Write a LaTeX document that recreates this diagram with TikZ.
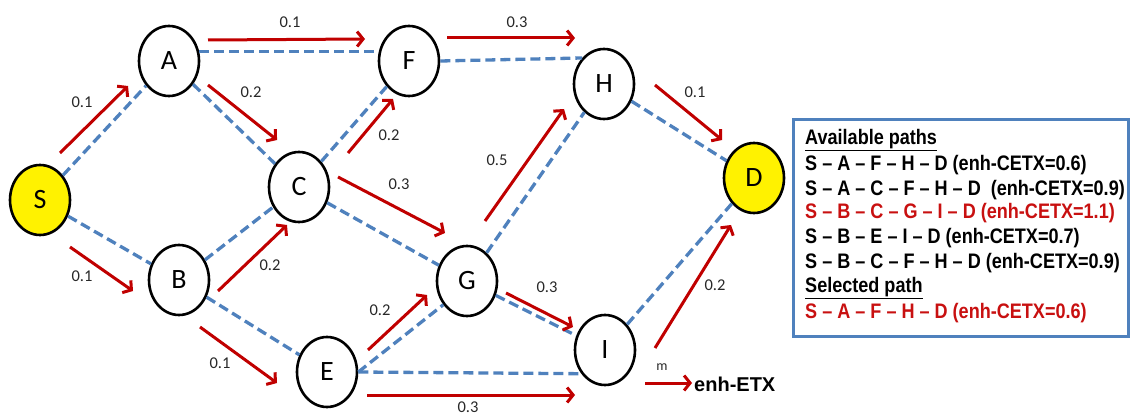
\documentclass[tikz,border=0pt]{standalone}
\usepackage{fontspec}
\setmainfont{Carlito}
\newfontfamily\legfont[FakeStretch=0.86]{Liberation Sans}
\newfontfamily\arialfont{Liberation Sans}
\usetikzlibrary{arrows.meta,shapes.geometric}
\definecolor{linkblue}{RGB}{79,129,189}
\definecolor{flowred}{RGB}{192,0,0}
\definecolor{redtext}{RGB}{200,16,16}
\definecolor{darktext}{RGB}{40,40,40}
\begin{document}
\begin{tikzpicture}[x=1pt,y=-1pt,
  nd/.style={ellipse,draw=black,line width=2.6pt,minimum width=60pt,minimum height=70pt,inner sep=0pt,fill=white,font=\fontsize{28}{28}\selectfont},
  src/.style={nd,fill=yellow},
  link/.style={draw=linkblue,line width=3.3pt,dash pattern=on 10pt off 5pt},
  flow/.style={draw=flowred,line width=3pt,-{Straight Barb[length=6pt,width=15pt]}},
  wt/.style={font=\fontsize{16.5}{16.5}\selectfont,text=darktext,inner sep=0pt},
  legline/.style={anchor=west,inner sep=0pt,font=\legfont\bfseries\fontsize{21}{21}\selectfont},
]
\useasboundingbox (0,0) rectangle (1131,417);

% nodes
\node[src] (S) at (40,200) {S};
\node[nd] (A) at (169,61) {A};
\node[nd] (B) at (179,280) {B};
\node[nd] (C) at (299,187) {C};
\node[src] (D) at (754,178) {D};
\node[nd] (E) at (327,372) {E};
\node[nd] (F) at (409,61) {F};
\node[nd] (G) at (467,281) {G};
\node[nd] (H) at (604,84) {H};
\node[nd] (I) at (605,350) {I};

% dashed links
\draw[link] (S) -- (A);
\draw[link] (S) -- (B);
\draw[link] (A.18) -- (F.162);
\draw[link] (A) -- (C);
\draw[link] (B) -- (C);
\draw[link] (B) -- (E);
\draw[link] (C) -- (F);
\draw[link] (C) -- (G);
\draw[link] (F.east) -- (H.130);
\draw[link] (G) -- (H);
\draw[link] (H) -- (D);
\draw[link] (E.east) -- (G.225);
\draw[link] (E.east) -- (I.225);
\draw[link] (G) -- (I);
\draw[link] (I) -- (D);

% red flow arrows
\coordinate (sa1) at (60,153);  \coordinate (sa2) at (128,86);
\coordinate (sb1) at (70,247);  \coordinate (sb2) at (133,291);
\coordinate (af1) at (208,40);  \coordinate (af2) at (365,39);
\coordinate (ac1) at (208,85);  \coordinate (ac2) at (277,140);
\coordinate (cf1) at (348,153); \coordinate (cf2) at (393,99);
\coordinate (bc1) at (218,291); \coordinate (bc2) at (287,225);
\coordinate (be1) at (200,327); \coordinate (be2) at (277,383);
\coordinate (cg1) at (338,177); \coordinate (cg2) at (445,233);
\coordinate (fh1) at (447,38);  \coordinate (fh2) at (575,38);
\coordinate (gh1) at (485,221); \coordinate (gh2) at (564,109);
\coordinate (hd1) at (655,85);  \coordinate (hd2) at (722,140);
\coordinate (eg1) at (368,350); \coordinate (eg2) at (427,295);
\coordinate (gi1) at (506,293); \coordinate (gi2) at (573,327);
\coordinate (ei1) at (367,395); \coordinate (ei2) at (575,395);
\coordinate (id1) at (655,348); \coordinate (id2) at (731,225);
\coordinate (m1) at (645,383);  \coordinate (m2) at (692,383);

\draw[flow] (sa1) -- (sa2);
\draw[flow] (sb1) -- (sb2);
\draw[flow] (af1) -- (af2);
\draw[flow] (ac1) -- (ac2);
\draw[flow] (cf1) -- (cf2);
\draw[flow] (bc1) -- (bc2);
\draw[flow] (be1) -- (be2);
\draw[flow] (cg1) -- (cg2);
\draw[flow] (fh1) -- (fh2);
\draw[flow] (gh1) -- (gh2);
\draw[flow] (hd1) -- (hd2);
\draw[flow] (eg1) -- (eg2);
\draw[flow] (gi1) -- (gi2);
\draw[flow] (ei1) -- (ei2);
\draw[flow] (id1) -- (id2);
\draw[flow] (m1) -- (m2);

% weights
\node[wt] (w1) at (82,102) {0.1};
\node[wt] (w2) at (82,276) {0.1};
\node[wt] (w3) at (290,22) {0.1};
\node[wt] (w4) at (251,92) {0.2};
\node[wt] (w5) at (389,135) {0.2};
\node[wt] (w6) at (270,265) {0.2};
\node[wt] (w7) at (220,363) {0.1};
\node[wt] (w8) at (399,184) {0.3};
\node[wt] (w9) at (517,22) {0.3};
\node[wt] (w10) at (497,160) {0.5};
\node[wt] (w11) at (695,92) {0.1};
\node[wt] (w12) at (380,310) {0.2};
\node[wt] (w13) at (547,287) {0.3};
\node[wt] (w14) at (468,407) {0.3};
\node[wt] (w15) at (715,285) {0.2};
\node[wt,font=\fontsize{14}{14}\selectfont] (wm) at (662,367) {m};
\node[anchor=west,inner sep=0pt,font=\arialfont\bfseries\fontsize{20}{20}\selectfont] (etx) at (694,384) {enh-ETX};

% legend
\node[draw=linkblue,line width=3pt,minimum width=335pt,minimum height=217pt,inner sep=0pt] (box) at (960.5,228) {};
\node[legline] (l1) at (805,140) {\underline{Available paths}};
\node[legline] (l2) at (805,165) {S – A – F – H – D (enh-CETX=0.6)};
\node[legline] (l3) at (805,190) {S – A – C – F – H – D \ (enh-CETX=0.9)};
\node[legline,text=redtext] (l4) at (805,213) {S – B – C – G – I – D (enh-CETX=1.1)};
\node[legline] (l5) at (805,238) {S – B – E – I – D (enh-CETX=0.7)};
\node[legline] (l6) at (805,263) {S – B – C – F – H – D (enh-CETX=0.9)};
\node[legline] (l7) at (805,288) {\underline{Selected path}};
\node[legline,text=redtext] (l8) at (805,313) {S – A – F – H – D (enh-CETX=0.6)};
\end{tikzpicture}
\end{document}
